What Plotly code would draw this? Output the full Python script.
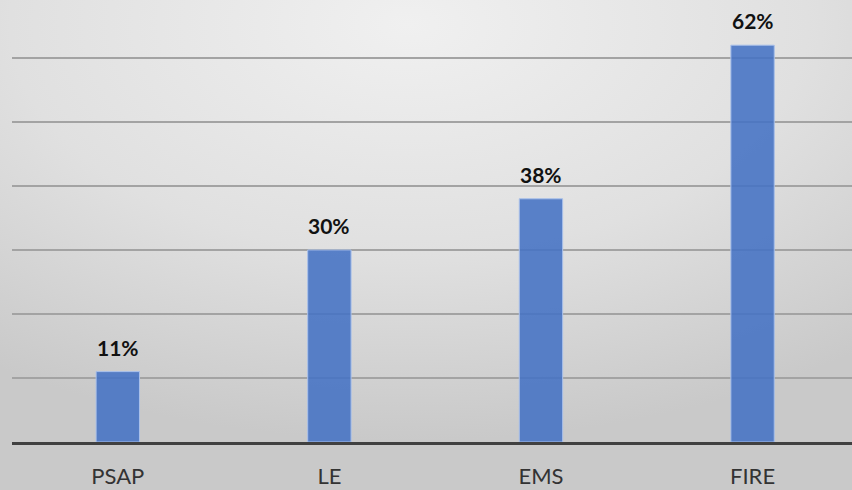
import base64
import plotly.graph_objects as go

# Share of agencies by discipline
categories = ["PSAP", "LE", "EMS", "FIRE"]
values = [11, 30, 38, 62]
labels = ["11%", "30%", "38%", "62%"]

W, H = 852, 490
PLOT_LEFT, PLOT_BOTTOM = 12, 48

# Soft radial grey backdrop, lightest near the top centre
svg = f"""<svg xmlns='http://www.w3.org/2000/svg' width='{W}' height='{H}' viewBox='0 0 {W} {H}' preserveAspectRatio='none'>
<defs><radialGradient id='g' cx='0.48' cy='0.05' r='0.85' gradientUnits='objectBoundingBox'>
<stop offset='0' stop-color='#f0f0f0'/><stop offset='0.55' stop-color='#e0e0e0'/><stop offset='1' stop-color='#c9c9c9'/>
</radialGradient></defs><rect width='{W}' height='{H}' fill='url(#g)'/></svg>"""
bg_uri = "data:image/svg+xml;base64," + base64.b64encode(svg.encode()).decode()

fig = go.Figure()
fig.add_trace(go.Bar(
    x=categories,
    y=values,
    marker=dict(color="rgba(68,114,196,0.88)", line=dict(color="#a9c0ea", width=1)),
    width=0.205,
    hoverinfo="skip",
))

for c, v, t in zip(categories, values, labels):
    fig.add_annotation(
        x=c, y=v, text=f"<b>{t}</b>", showarrow=False,
        yanchor="bottom", yshift=10,
        font=dict(family="Lato", size=21, color="#111111"),
    )

fig.update_layout(
    width=W, height=H,
    margin=dict(l=PLOT_LEFT, r=0, t=0, b=PLOT_BOTTOM),
    paper_bgcolor="#dcdcdc",
    plot_bgcolor="rgba(0,0,0,0)",
    showlegend=False,
    images=[dict(source=bg_uri, xref="paper", yref="paper",
                 x=-PLOT_LEFT / (W - PLOT_LEFT), y=1,
                 sizex=W / (W - PLOT_LEFT), sizey=H / (H - PLOT_BOTTOM),
                 xanchor="left", yanchor="top", sizing="stretch", layer="below")],
    xaxis=dict(
        range=[-0.5, 3.47],
        showgrid=False,
        showline=True, linecolor="#404040", linewidth=3,
        ticks="", ticklabelstandoff=13,
        tickfont=dict(family="Lato", size=22, color="#333333"),
    ),
    yaxis=dict(
        range=[0, 69.06],
        dtick=10,
        showgrid=True, gridcolor="#a3a3a3", gridwidth=2,
        zeroline=False, showticklabels=False, ticks="",
    ),
)

fig.write_html("out.html")
